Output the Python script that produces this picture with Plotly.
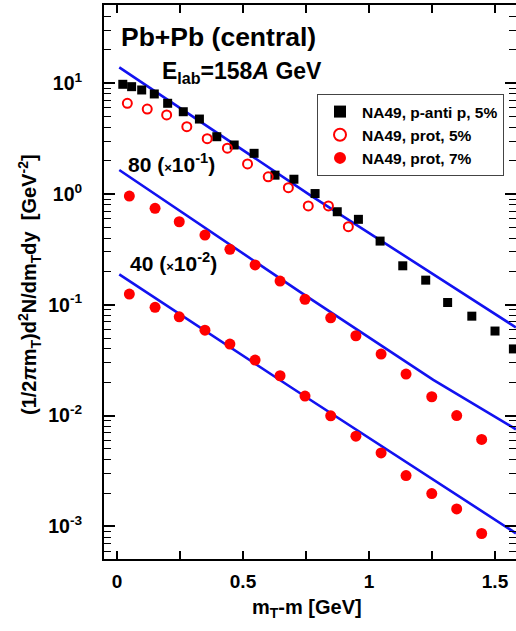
import plotly.graph_objects as go

# ---- NA49 Pb+Pb (central) transverse-mass spectra ----
# m_T - m in GeV
mt_pbar = [0.023, 0.058, 0.098, 0.148, 0.201, 0.263, 0.327, 0.396, 0.465, 0.544, 0.627,
           0.702, 0.786, 0.874, 0.958, 1.044, 1.134, 1.225, 1.312, 1.408, 1.500, 1.573]
# 158A GeV, p - anti p
y_pbar = [9.78, 9.31, 8.69, 8.00, 6.59, 5.53, 4.75, 3.29, 2.77, 2.33, 1.48,
          1.36, 1.01, 0.692, 0.591, 0.376, 0.225, 0.167, 0.105, 0.079, 0.058, 0.040]

mt_p158 = [0.041, 0.120, 0.197, 0.277, 0.358, 0.438, 0.518, 0.600, 0.680, 0.759, 0.839, 0.918]
y_p158 = [6.59, 5.85, 5.17, 4.05, 3.16, 2.59, 1.87, 1.43, 1.14, 0.78, 0.78, 0.507]

mt_p_low = [0.049, 0.151, 0.247, 0.349, 0.448, 0.548, 0.647, 0.746, 0.848, 0.948,
            1.048, 1.147, 1.249, 1.348, 1.447]
# 80A GeV protons (unscaled)
y_p80 = [9.59, 7.43, 5.62, 4.26, 3.17, 2.29, 1.64, 1.12, 0.763, 0.526,
         0.359, 0.237, 0.148, 0.100, 0.061]
# 40A GeV protons (unscaled)
y_p40 = [12.5, 9.49, 7.80, 5.91, 4.42, 3.17, 2.29, 1.50, 0.995, 0.653,
         0.461, 0.288, 0.198, 0.144, 0.0863]

scale80 = 1e-1
scale40 = 1e-2

# model curves
mt_fit158 = [0.009, 0.766, 1.583]
y_fit158 = [13.9, 0.979, 0.0625]
mt_fit80 = [0.009, 0.726, 1.255, 1.583]
y_fit80 = [16.47, 1.31, 0.210, 0.0752]
mt_fit40 = [0.009, 0.687, 1.583]
y_fit40 = [18.85, 1.823, 0.0867]

x_ticks = [0, 0.25, 0.5, 0.75, 1, 1.25, 1.5]
x_ticktext = ["0", "", "0.5", "", "1", "", "1.5"]
y_ticks = [1e-3, 1e-2, 1e-1, 1e0, 1e1]
y_ticktext = ["10<sup>-3</sup>", "10<sup>-2</sup>", "10<sup>-1</sup>", "10<sup>0</sup>", "10<sup>1</sup>"]
# 2..9 times each decade
y_minor = [k * 10.0 ** e for e in range(-4, 2) for k in range(2, 10)]

FONT = "Liberation Sans, Arial, Helvetica, sans-serif"
BLUE = "#1212f0"
RED = "#ff0000"

fig = go.Figure()

line_style = dict(color=BLUE, width=2.6)
fig.add_trace(go.Scatter(x=mt_fit158, y=y_fit158, mode="lines", line=line_style, showlegend=False))
fig.add_trace(go.Scatter(x=mt_fit80, y=[v * scale80 for v in y_fit80], mode="lines",
                         line=line_style, showlegend=False))
fig.add_trace(go.Scatter(x=mt_fit40, y=[v * scale40 for v in y_fit40], mode="lines",
                         line=line_style, showlegend=False))

fig.add_trace(go.Scatter(x=mt_pbar, y=y_pbar, mode="markers", name="NA49, p-anti p, 5%",
                         marker=dict(symbol="square", size=9, color="black")))
fig.add_trace(go.Scatter(x=mt_p158, y=y_p158, mode="markers", name="NA49, prot, 5%",
                         marker=dict(symbol="circle-open", size=9, color=RED, line=dict(width=2, color=RED))))
fig.add_trace(go.Scatter(x=mt_p_low, y=[v * scale80 for v in y_p80], mode="markers",
                         name="NA49, prot, 7%", marker=dict(symbol="circle", size=11, color=RED)))
fig.add_trace(go.Scatter(x=mt_p_low, y=[v * scale40 for v in y_p40], mode="markers",
                         showlegend=False, marker=dict(symbol="circle", size=11, color=RED)))

# empty traces that bring the extra tick axes to life
for ax in ["y2", "y3", "y4"]:
    fig.add_trace(go.Scatter(x=[None], y=[None], yaxis=ax, showlegend=False, hoverinfo="skip"))

yrange = [-3.294, 1.706]

def tick_axis(side, vals, length, width):
    # overlay axis that only draws tick marks
    return dict(type="log", range=yrange, overlaying="y", side=side, showgrid=False,
                zeroline=False, showline=False, showticklabels=False,
                ticks="inside", ticklen=length, tickwidth=width, tickcolor="black",
                tickmode="array", tickvals=vals)

fig.update_layout(
    width=516, height=631,
    margin=dict(l=104, r=0, t=5, b=72),
    paper_bgcolor="white", plot_bgcolor="white",
    font=dict(family=FONT, color="black"),
    xaxis=dict(
        range=[-0.0516, 1.5833], showgrid=False, zeroline=False,
        showline=True, linecolor="black", linewidth=2, mirror="ticks",
        ticks="inside", ticklen=8, tickwidth=1.5, tickcolor="black",
        tickmode="array", tickvals=x_ticks, ticktext=x_ticktext,
        tickfont=dict(size=19, family=FONT, weight="bold"),
        ticklabelstandoff=4,
    ),
    yaxis=dict(
        type="log", range=yrange, showgrid=False, zeroline=False,
        showline=True, linecolor="black", linewidth=2, mirror=False,
        ticks="inside", ticklen=11, tickwidth=1.5, tickcolor="black",
        tickmode="array", tickvals=y_ticks, ticktext=y_ticktext,
        tickfont=dict(size=19.5, family=FONT, weight="bold"),
        ticklabelstandoff=16,
    ),
    yaxis2=tick_axis("right", y_ticks, 11, 1.5),
    yaxis3=tick_axis("left", y_minor, 7, 1.3),
    yaxis4=tick_axis("right", y_minor, 7, 1.3),
    legend=dict(
        x=(317 - 104) / 412, y=1 - (94 - 5) / 554, xanchor="left", yanchor="top",
        bgcolor="white", bordercolor="#444444", borderwidth=1,
        font=dict(size=15.5, family=FONT, weight="bold"),
        tracegroupgap=0, itemsizing="constant", itemwidth=34,
    ),
    showlegend=True,
)

def px_x(px):
    return (px - 104) / 412

def px_y(py):
    return 1 - (py - 5) / 554

annos = [
    dict(text="<b>Pb+Pb (central)</b>", x=px_x(119), y=px_y(37), xanchor="left", yanchor="middle",
         font=dict(size=26.5)),
    dict(text="<b>E<sub>lab</sub>=158<i>A</i> GeV</b>", x=px_x(160), y=px_y(73), xanchor="left",
         yanchor="middle", font=dict(size=23)),
    dict(text="<b>80 (<span style='font-size:13px'>×</span>10<sup>-1</sup>)</b>", x=px_x(126),
         y=px_y(163), xanchor="left", yanchor="middle", font=dict(size=21)),
    dict(text="<b>40 (<span style='font-size:13px'>×</span>10<sup>-2</sup>)</b>", x=px_x(128),
         y=px_y(262), xanchor="left", yanchor="middle", font=dict(size=21)),
    dict(text="<b>m<sub>T</sub>-m [GeV]</b>", x=px_x(307), y=px_y(608), xanchor="center",
         yanchor="middle", font=dict(size=20)),
    dict(text="<b>(1/2<i>π</i>m<sub>T</sub>)d<sup>2</sup>N/dm<sub>T</sub>dy  [GeV<sup>-2</sup>]</b>",
         x=px_x(29), y=px_y(285), xanchor="center", yanchor="middle", textangle=-90,
         font=dict(size=20)),
]
for a in annos:
    a.update(xref="paper", yref="paper", showarrow=False)
    a["font"] = dict(family=FONT, color="black", **a["font"])
    fig.add_annotation(**a)

fig.write_html("out.html")
